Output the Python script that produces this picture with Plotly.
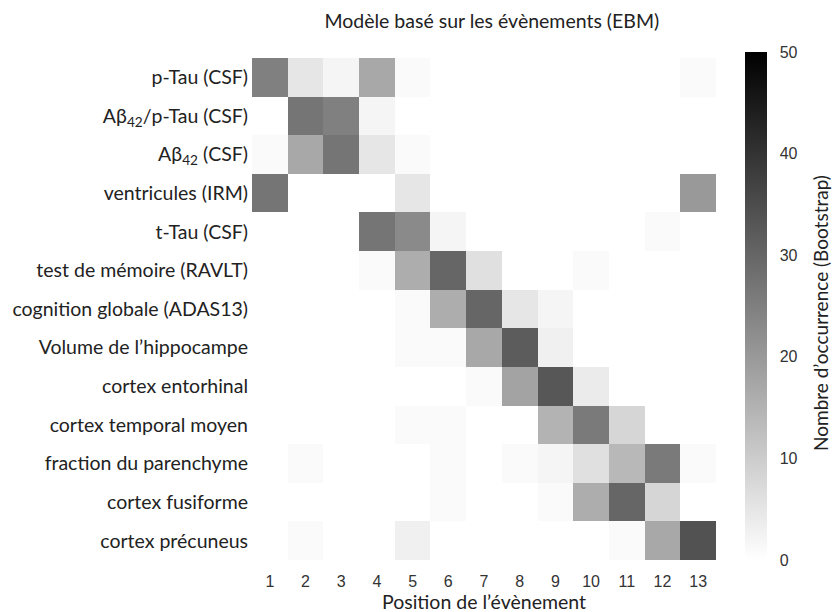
import plotly.graph_objects as go

# biomarqueurs (ordre de l'axe y, du haut vers le bas)
biomarkers = [
    'p-Tau (CSF)',
    'Aβ<sub>42</sub>/p-Tau (CSF)',
    'Aβ<sub>42</sub> (CSF)',
    'ventricules (IRM)',
    't-Tau (CSF)',
    'test de mémoire (RAVLT)',
    'cognition globale (ADAS13)',
    'Volume de l\u2019hippocampe',
    'cortex entorhinal',
    'cortex temporal moyen',
    'fraction du parenchyme',
    'cortex fusiforme',
    'cortex précuneus',
]
positions = list(range(1, 14))
cbar_ticks = [0, 10, 20, 30, 40, 50]

# nombre d'occurrences bootstrap par position (lignes = biomarqueurs)
counts = [
    [25, 5, 2, 17, 1, 0, 0, 0, 0, 0, 0, 0, 1],
    [0, 27, 25, 2, 0, 0, 0, 0, 0, 0, 0, 0, 0],
    [1, 17, 27, 5, 1, 0, 0, 0, 0, 0, 0, 0, 0],
    [27, 0, 0, 0, 5, 0, 0, 0, 0, 0, 0, 0, 20],
    [0, 0, 0, 27, 23, 2, 0, 0, 0, 0, 0, 1, 0],
    [0, 0, 0, 1, 16, 30, 6, 0, 0, 1, 0, 0, 0],
    [0, 0, 0, 0, 1, 16, 30, 5, 2, 0, 0, 0, 0],
    [0, 0, 0, 0, 1, 1, 17, 32, 3, 0, 0, 0, 0],
    [0, 0, 0, 0, 0, 0, 1, 18, 33, 4, 0, 0, 0],
    [0, 0, 0, 0, 1, 1, 0, 0, 15, 26, 8, 0, 0],
    [0, 1, 0, 0, 0, 1, 0, 1, 2, 6, 14, 26, 1],
    [0, 0, 0, 0, 0, 1, 0, 0, 1, 16, 30, 8, 0],
    [0, 1, 0, 0, 3, 0, 0, 0, 0, 0, 1, 17, 34],
]

text_family = 'Lato, Open Sans, sans-serif'
label_font = dict(family=text_family, size=19.5, color='#222222')
num_font = dict(family='Liberation Sans, Arial, sans-serif', size=16, color='#333333')

fig = go.Figure(
    go.Heatmap(
        z=counts,
        x=positions,
        y=biomarkers,
        zmin=0,
        zmax=50,
        colorscale=[[0, '#ffffff'], [1, '#000000']],
        colorbar=dict(
            tickvals=cbar_ticks,
            tickfont=num_font,
            ticks='outside',
            ticklen=10,
            tickcolor='rgba(0,0,0,0)',
            outlinewidth=0,
            thickness=22,
            xpad=0,
            ypad=0,
            lenmode='pixels',
            len=508,
            x=1.0625,
            xanchor='left',
            y=0.506,
            yanchor='middle',
        ),
    )
)

fig.update_layout(
    width=840,
    height=612,
    margin=dict(l=244, r=132, t=50, b=60, autoexpand=False),
    plot_bgcolor='white',
    paper_bgcolor='white',
    title=dict(text='Modèle basé sur les évènements (EBM)', x=0.576, xanchor='center',
               y=0.978, yanchor='middle', font=dict(family=text_family, size=19.5,
                                                    color='#222222')),
    annotations=[
        dict(text='Nombre d\u2019occurrence (Bootstrap)', xref='paper', yref='paper',
             x=1.224, y=0.492, xanchor='center', yanchor='middle', textangle=-90,
             showarrow=False, font=dict(family=text_family, size=19, color='#222222')),
    ],
)
fig.update_xaxes(
    tickvals=positions,
    tickfont=num_font,
    showgrid=False,
    zeroline=False,
    showline=False,
    ticks='outside',
    ticklen=7,
    tickcolor='rgba(0,0,0,0)',
    automargin=False,
    title=dict(text='Position de l\u2019évènement', font=label_font, standoff=0),
)
fig.update_yaxes(
    autorange='reversed',
    tickfont=label_font,
    showgrid=False,
    zeroline=False,
    showline=False,
    ticks='',
    automargin=False,
    ticklabelstandoff=3,
)

fig.write_html('out.html')
